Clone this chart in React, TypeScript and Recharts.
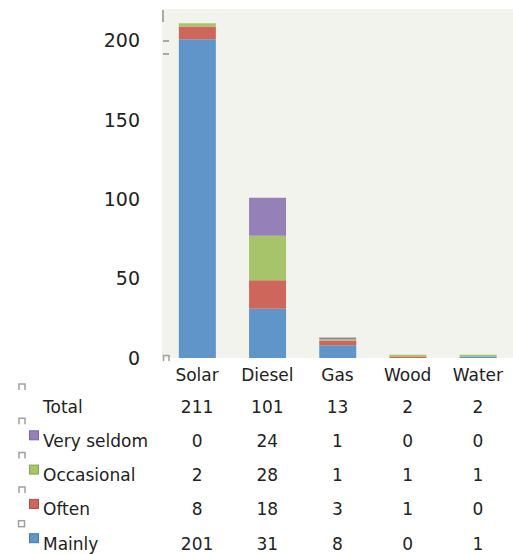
import React from "react";
import { BarChart, Bar, XAxis, YAxis, CartesianGrid } from "recharts";

const categories = ["Solar", "Diesel", "Gas", "Wood", "Water"];
const mainly = [201, 31, 8, 0, 1];
const often = [8, 18, 3, 1, 0];
const occasional = [2, 28, 1, 1, 1];
const verySeldom = [0, 24, 1, 0, 0];
const yTicks = [0, 50, 100, 150, 200];

const series = [
  { key: "verySeldom", name: "Very seldom", values: verySeldom, color: "#9580b8", edge: "#7a64a0" },
  { key: "occasional", name: "Occasional", values: occasional, color: "#a7c46b", edge: "#8aa552" },
  { key: "often", name: "Often", values: often, color: "#cf665c", edge: "#b04c43" },
  { key: "mainly", name: "Mainly", values: mainly, color: "#5f95c8", edge: "#4379ad" },
];

const data = categories.map((c, i) => ({
  name: c,
  mainly: mainly[i],
  often: often[i],
  occasional: occasional[i],
  verySeldom: verySeldom[i],
  total: mainly[i] + often[i] + occasional[i] + verySeldom[i],
}));

const FONT = "'DejaVu Sans', sans-serif";
const TEXT = "#222";
const ROW_GAP = 34.3;

// category label plus the table column under it
function CategoryTick({ x, y, payload, index }: any) {
  const d = data[index];
  const rows = [d.total, ...series.map((s) => s.values[index])];
  return (
    <g>
      <text x={x} y={y + 23} textAnchor="middle" fontSize={17} fill={TEXT} fontFamily={FONT}>
        {payload.value}
      </text>
      {rows.map((v, r) => (
        <text key={r} x={x} y={y + 54.5 + r * ROW_GAP} textAnchor="middle" fontSize={17} fill={TEXT} fontFamily={FONT}>
          {v}
        </text>
      ))}
    </g>
  );
}

function RowLabels() {
  const labels = ["Total", ...series.map((s) => s.name)];
  return (
    <svg width={160} height={200} style={{ position: "absolute", left: 0, top: 380 }}>
      {labels.map((l, r) => {
        const cy = 26 + r * ROW_GAP;
        const s = r > 0 ? series[r - 1] : null;
        return (
          <g key={l}>
            {r === 4 ? (
              <rect x={18.5} y={cy - 22.5} width={6} height={6} fill="none" stroke="#a0a0a0" strokeWidth={1.5} />
            ) : (
              <path d={`M19 ${cy - 16} V${cy - 22} H25 V${cy - 16}`} fill="none" stroke="#a0a0a0" strokeWidth={1.5} />
            )}
            {s && (
              <rect x={29.5} y={cy - 9.5} width={9} height={9} fill={s.color} stroke={s.edge} strokeWidth={1} />
            )}
            <text x={43} y={cy + 6.5} fontSize={17} fill={TEXT} fontFamily={FONT}>
              {l}
            </text>
          </g>
        );
      })}
    </svg>
  );
}

export default function App() {
  return (
    <div style={{ position: "absolute", left: 0, top: 0, width: 513, height: 554, background: "#fff" }}>
      <BarChart
        width={513}
        height={554}
        data={data}
        margin={{ top: 9, right: 0, bottom: 0, left: 0 }}
        barCategoryGap="24%"
      >
        <CartesianGrid fill="#f1f3ec" stroke="none" horizontal={false} vertical={false} />
        <YAxis
          width={162}
          domain={[0, 220]}
          ticks={yTicks}
          axisLine={false}
          tickLine={false}
          tickSize={0}
          tickMargin={22}
          tick={{ fontSize: 19, fill: TEXT, fontFamily: FONT }}
        />
        <XAxis
          dataKey="name"
          height={196}
          axisLine={false}
          tickLine={false}
          tickSize={0}
          tickMargin={0}
          interval={0}
          tick={<CategoryTick />}
        />
        <Bar dataKey="mainly" stackId="a" fill="#5f95c8" isAnimationActive={false} />
        <Bar dataKey="often" stackId="a" fill="#cf665c" isAnimationActive={false} />
        <Bar dataKey="occasional" stackId="a" fill="#a7c46b" isAnimationActive={false} />
        <Bar dataKey="verySeldom" stackId="a" fill="#9580b8" isAnimationActive={false} />
      </BarChart>
      <svg width={20} height={370} style={{ position: "absolute", left: 155, top: 0 }}>
        <line x1={8} y1={10} x2={8} y2={22} stroke="#a8a8a8" strokeWidth={2} />
        <line x1={8} y1={41} x2={14} y2={41} stroke="#a8a8a8" strokeWidth={2} />
        <line x1={8} y1={54} x2={14} y2={54} stroke="#a8a8a8" strokeWidth={2} />
        <path d="M8.5 361 V355.5 H14 V361" fill="none" stroke="#a0a0a0" strokeWidth={1.5} />
      </svg>
      <RowLabels />
    </div>
  );
}
